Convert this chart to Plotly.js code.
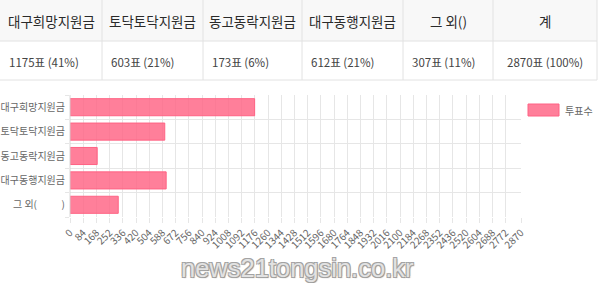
<!DOCTYPE html>
<html>
<head>
<meta charset="utf-8">
<script src="https://cdn.plot.ly/plotly-3.0.1.min.js"></script>
<style>body{margin:0;padding:0;background:#fff;}#chart{width:600px;height:283px;}</style>
</head>
<body>
<div id="chart"></div>
<script>
var tableHeaders = ["대구희망지원금", "토닥토닥지원금", "동고동락지원금", "대구동행지원금", "그 외()", "계"];
var tableCells = ["1175표 (41%)", "603표 (21%)", "173표 (6%)", "612표 (21%)", "307표 (11%)", "2870표 (100%)"];

var categories = ["대구희망지원금", "토닥토닥지원금", "동고동락지원금", "대구동행지원금", "그 외()"];
var categoryLabels = ["대구희망지원금", "토닥토닥지원금", "동고동락지원금", "대구동행지원금", "그 외(\u00a0\u00a0\u00a0\u00a0\u00a0\u00a0\u00a0\u00a0\u00a0\u00a0\u00a0)"];
var votes = [1175, 603, 173, 612, 307];
var seriesName = "투표수";
var total = 2870;
var xTicks = [0, 84, 168, 252, 336, 420, 504, 588, 672, 756, 840, 924, 1008, 1092, 1176, 1260, 1344, 1428, 1512, 1596, 1680, 1764, 1848, 1932, 2016, 2100, 2184, 2268, 2352, 2436, 2520, 2604, 2688, 2772, 2870];
var watermark = "news21tongsin.co.kr";

var font = "'Noto Sans CJK KR', 'Noto Sans', sans-serif";
var W = 600, H = 283;
function px(x){ return x / W; }
function py(y){ return 1 - y / H; }

// table layout (pixel geometry)
var colEdges = [0, 102, 203, 302, 403, 493, 597];
var headerBottom = 41, tableBottom = 80;
var headerMid = 21, bodyMid = 62;
var lineColor = "#e2e2e2";

var shapes = [];
var annotations = [];

shapes.push({type: "rect", xref: "paper", yref: "paper", x0: px(0), x1: px(597), y0: py(headerBottom), y1: py(0), fillcolor: "#f8f8f8", line: {width: 0}, layer: "below"});
shapes.push({type: "line", xref: "paper", yref: "paper", x0: px(0), x1: px(597), y0: py(headerBottom), y1: py(headerBottom), line: {color: lineColor, width: 1}});
shapes.push({type: "line", xref: "paper", yref: "paper", x0: px(0), x1: px(597), y0: py(tableBottom), y1: py(tableBottom), line: {color: lineColor, width: 1}});
for (var i = 1; i < colEdges.length; i++) {
  shapes.push({type: "line", xref: "paper", yref: "paper", x0: px(colEdges[i]), x1: px(colEdges[i]), y0: py(tableBottom), y1: py(0), line: {color: lineColor, width: 1}});
}
tableHeaders.forEach(function(h, i){
  annotations.push({xref: "paper", yref: "paper", x: px((colEdges[i] + colEdges[i+1]) / 2), y: py(headerMid), text: h, showarrow: false, xanchor: "center", yanchor: "middle", font: {family: font, size: 13.5, color: "#2a2a2a"}});
});
tableCells.forEach(function(c, i){
  var last = i === tableCells.length - 1;
  annotations.push({xref: "paper", yref: "paper", x: last ? px((colEdges[i] + colEdges[i+1]) / 2) : px(colEdges[i] + 7), y: py(bodyMid), text: c, showarrow: false, xanchor: last ? "center" : "left", yanchor: "middle", font: {family: font, size: 11.5, color: "#444"}});
});

// legend (drawn)
shapes.push({type: "rect", xref: "paper", yref: "paper", x0: px(528), x1: px(559), y0: py(116), y1: py(104), fillcolor: "rgba(255,99,132,0.82)", line: {color: "#ff6384", width: 1}});
annotations.push({xref: "paper", yref: "paper", x: px(563), y: py(110), text: seriesName, showarrow: false, xanchor: "left", yanchor: "middle", font: {family: font, size: 10, color: "#666"}});

// y axis left line
shapes.push({type: "line", xref: "paper", yref: "paper", x0: px(70), x1: px(70), y0: py(217), y1: py(95), line: {color: "#d6d6d6", width: 1}});

// watermark
annotations.push({xref: "paper", yref: "paper", x: px(297), y: py(268), text: watermark, showarrow: false, xanchor: "center", yanchor: "middle",
  font: {family: "'Liberation Sans', Arial, sans-serif", size: 25.5, color: "#e2e2e2", shadow: "-1px -1px 0 #a3a3a3, 1px -1px 0 #a3a3a3, -1px 1px 0 #a3a3a3, 1px 1px 1px #8c8c8c"}});

var bars = {
  type: "bar",
  orientation: "h",
  x: votes,
  y: categories,
  name: seriesName,
  marker: {color: "rgba(255,99,132,0.82)", line: {color: "#ff6384", width: 1}},
  showlegend: false,
  hoverinfo: "x+y"
};

var layout = {
  width: W,
  height: H,
  margin: {l: 0, r: 0, t: 0, b: 0},
  paper_bgcolor: "#fff",
  plot_bgcolor: "#fff",
  font: {family: font},
  bargap: 0.3,
  xaxis: {
    domain: [px(70), px(521)],
    range: [0, total],
    tickvals: xTicks,
    ticktext: xTicks.map(String),
    tickangle: -45,
    tickfont: {size: 10, color: "#666"},
    showgrid: true,
    gridcolor: "#e6e6e6",
    gridwidth: 1,
    zeroline: false,
    ticks: "outside",
    ticklen: 5,
    tickcolor: "#e6e6e6",
    showline: false,
    fixedrange: true
  },
  yaxis: {
    domain: [py(217), py(95)],
    type: "category",
    autorange: "reversed",
    tickvals: categories,
    ticktext: categoryLabels,
    tickson: "boundaries",
    ticks: "outside",
    ticklen: 4,
    tickcolor: "#e6e6e6",
    ticklabelstandoff: 4,
    showgrid: true,
    gridcolor: "#e6e6e6",
    tickfont: {size: 10, color: "#666"},
    showline: false,
    zeroline: false,
    fixedrange: true
  },
  shapes: shapes,
  annotations: annotations
};

Plotly.newPlot("chart", [bars], layout, {displayModeBar: false, staticPlot: true});
</script>
</body>
</html>
